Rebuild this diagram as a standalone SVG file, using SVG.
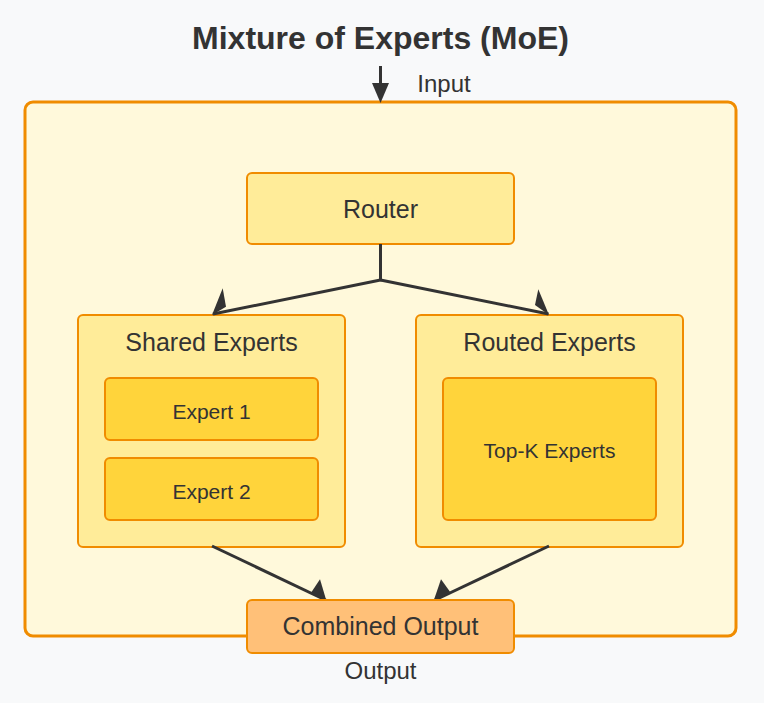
<svg xmlns="http://www.w3.org/2000/svg" width="764" height="703" viewBox="0 0 764 703">
<style>
text{font-family:"Liberation Sans",Arial,sans-serif;fill:#333;text-anchor:middle}
.box{stroke:#F08C00;stroke-width:2}
.lt{fill:#FFEC99}
.ex{fill:#FFD43B}
.conn{stroke:#333;stroke-width:3;fill:none}
.head{fill:#333}
</style>
<rect width="764" height="703" fill="#F8F9FA"/>
<text x="380.5" y="49" font-size="32" font-weight="bold">Mixture of Experts (MoE)</text>
<g id="container">
<rect x="25" y="102" width="711" height="534" rx="8" fill="#FFF9DB" stroke="#F08C00" stroke-width="3"/>
</g>
<g id="input-label"><text x="444" y="92" font-size="24">Input</text></g>
<g id="router">
<rect class="box lt" x="247" y="173" width="267" height="71" rx="5"/>
<text x="380.5" y="218" font-size="25">Router</text>
</g>
<g id="shared-experts">
<rect class="box lt" x="78" y="315" width="267" height="232" rx="5"/>
<text x="211.5" y="351" font-size="25">Shared Experts</text>
</g>
<g id="expert-1">
<rect class="box ex" x="105" y="378" width="213" height="62" rx="5"/>
<text x="211.5" y="419" font-size="21">Expert 1</text>
</g>
<g id="expert-2">
<rect class="box ex" x="105" y="458" width="213" height="62" rx="5"/>
<text x="211.5" y="499" font-size="21">Expert 2</text>
</g>
<g id="routed-experts">
<rect class="box lt" x="416" y="315" width="267" height="232" rx="5"/>
<text x="549.5" y="351" font-size="25">Routed Experts</text>
</g>
<g id="top-k">
<rect class="box ex" x="443" y="378" width="213" height="142" rx="5"/>
<text x="549.5" y="458" font-size="21">Top-K Experts</text>
</g>
<g id="connectors">
<line class="conn" x1="380.5" y1="66" x2="380.5" y2="86"/>
<polygon class="head" points="372,83 389,83 380.5,103"/>
<polyline class="conn" points="380.5,244 380.5,280 213,314"/>
<line class="conn" x1="380.5" y1="280" x2="548.5" y2="314"/>
<polygon class="head" points="222.7,288.3 226,306.7 212,315"/>
<polygon class="head" points="538.3,289.3 535,305 549,315"/>
<line class="conn" x1="212" y1="546" x2="326.5" y2="600.5"/>
<line class="conn" x1="549" y1="546" x2="434" y2="600.5"/>
<polygon class="head" points="320,579.3 310.7,593.3 326.7,601.7"/>
<polygon class="head" points="441,579.3 450,591.7 433.3,601.7"/>
</g>
<g id="combined-output">
<rect class="box" fill="#FFC078" x="247" y="600" width="267" height="53" rx="5"/>
<text x="380.5" y="635" font-size="25">Combined Output</text>
</g>
<g id="output-label"><text x="380.5" y="679" font-size="24">Output</text></g>
</svg>
